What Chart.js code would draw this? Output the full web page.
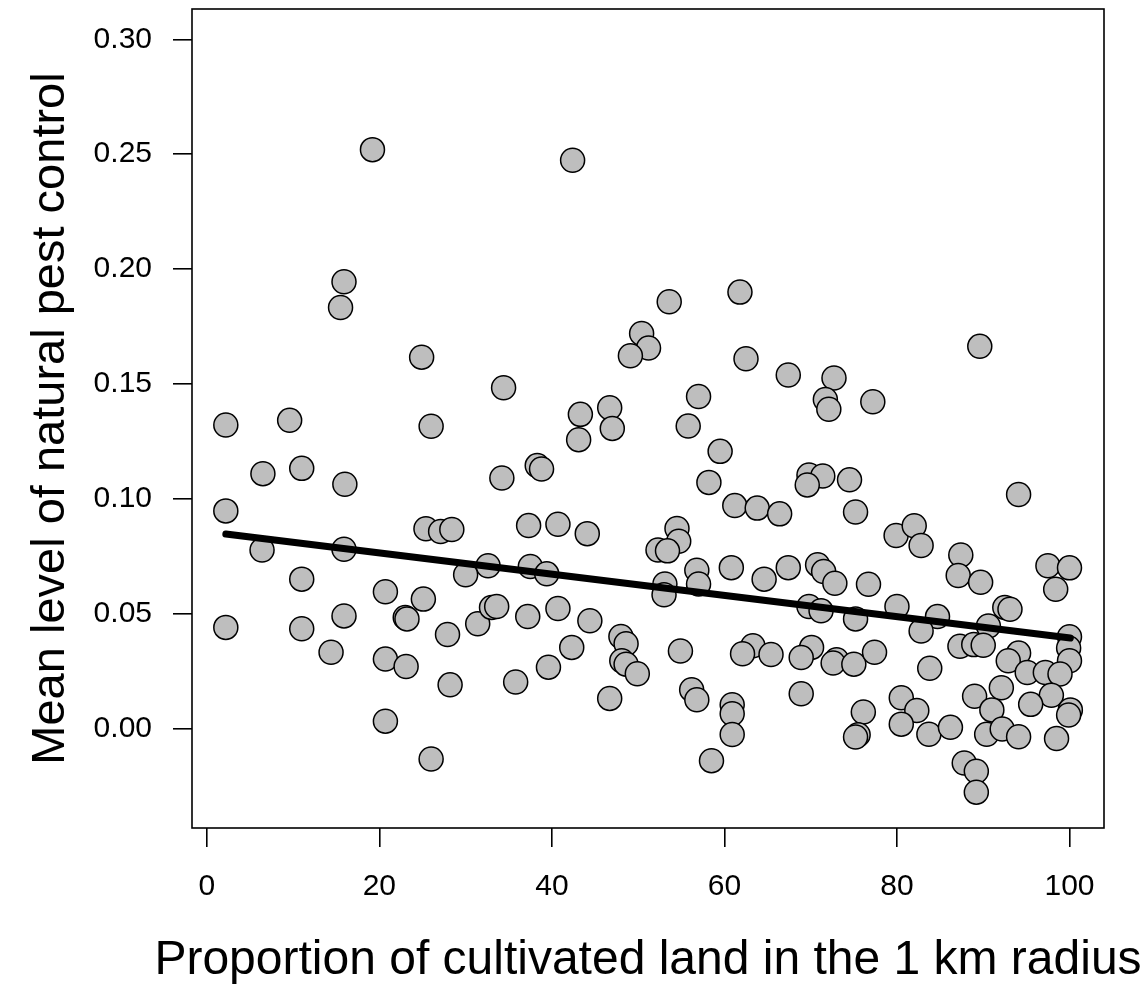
<!DOCTYPE html>
<html lang="en">
<head>
    <meta charset="UTF-8">
    <title>Natural pest control vs cultivated land</title>
    <script src="https://cdn.jsdelivr.net/npm/chart.js@4"></script>
    <style>
        body {
            margin: 0;
            background: #ffffff;
        }
        #wrap {
            width: 1146px;
            height: 985px;
        }
    </style>
</head>
<body>
    <div id="wrap">
        <canvas id="scatterCanvas" width="1146" height="985"></canvas>
    </div>
    <script>
        // proportion of cultivated land (%) and mean pest control
        const cultivated = [
            19.2, 15.9, 15.5, 24.9, 34.4, 2.2, 9.6, 26.0, 6.5, 11.0, 16.0, 34.2, 38.3, 38.8,
            2.2, 6.4, 15.9, 11.0, 25.4, 27.1, 28.4, 37.3, 32.6, 30.0, 37.5, 39.4, 20.7, 25.1,
            23.0, 23.2, 15.9, 2.2, 11.0, 14.4, 20.7, 23.1, 27.9, 31.4, 33.0, 33.6, 37.2, 39.6,
            28.2, 35.8, 20.7, 26.0,
            42.4, 53.6, 61.8, 50.4, 51.2, 49.1, 62.5, 67.4, 72.7, 71.7, 72.1, 77.2, 57.0, 43.3,
            46.7, 47.0, 43.1, 55.8, 59.5, 58.2, 69.8, 71.4, 69.6, 74.5,
            61.2, 63.8, 66.4, 75.2, 40.7, 44.1, 54.5, 54.7, 52.3, 53.4, 56.8, 57.0, 53.1, 53.0,
            60.8, 64.6, 67.4, 70.8, 71.5, 72.8, 76.7, 69.8, 71.2, 75.2, 40.7, 44.4, 42.3, 48.0,
            48.6, 48.1, 48.6, 49.9, 46.7, 54.9, 56.2, 56.8, 60.9, 60.9, 60.9, 58.5, 63.3, 62.1,
            65.4, 70.1, 68.9, 73.0, 72.6, 75.0, 77.4, 68.9, 76.1, 75.5, 75.2,
            89.6, 94.1, 79.9, 82.0, 82.8, 87.4, 87.1, 89.7, 97.5, 100.0, 98.4, 80.0, 84.7, 82.8,
            92.5, 93.1, 90.6, 87.3, 88.9, 90.0, 100.0, 99.9, 100.0, 94.1, 92.9, 95.1, 97.2, 98.9,
            83.8, 92.1, 89.0, 91.0, 97.9, 95.5, 100.1, 99.9, 80.5, 82.3, 80.5, 83.7, 86.2, 90.4,
            92.2, 94.1, 98.5, 87.8, 89.2, 89.2
        ];
        const pestControl = [
            0.252, 0.1945, 0.1833, 0.1617, 0.1484, 0.1322, 0.1342, 0.1316, 0.111, 0.1133, 0.1064, 0.1091, 0.1145, 0.113,
            0.0948, 0.0778, 0.0781, 0.0651, 0.087, 0.0858, 0.0867, 0.0884, 0.0709, 0.067, 0.0706, 0.0674, 0.0596, 0.0564,
            0.0484, 0.0478, 0.0491, 0.0441, 0.0435, 0.0333, 0.0303, 0.0271, 0.041, 0.0457, 0.0528, 0.0532, 0.0488, 0.0268,
            0.0191, 0.0203, 0.0033, -0.0132,
            0.2474, 0.1858, 0.19, 0.172, 0.1657, 0.1623, 0.161, 0.1539, 0.1526, 0.1433, 0.139, 0.1423, 0.1446, 0.1368,
            0.1397, 0.1307, 0.1258, 0.1317, 0.1207, 0.1072, 0.1104, 0.11, 0.1061, 0.1083,
            0.0971, 0.096, 0.0935, 0.0943, 0.089, 0.0849, 0.0871, 0.0816, 0.0778, 0.0774, 0.069, 0.063, 0.063, 0.0583,
            0.0701, 0.0651, 0.0701, 0.0714, 0.0684, 0.0633, 0.0629, 0.0532, 0.0513, 0.0478, 0.0523, 0.047, 0.0354, 0.0401,
            0.037, 0.0296, 0.0281, 0.0239, 0.0132, 0.0338, 0.017, 0.0126, 0.0104, 0.0065, -0.0025, -0.0139, 0.0361, 0.0326,
            0.0323, 0.0354, 0.031, 0.03, 0.0286, 0.0281, 0.0333, 0.0152, 0.0073, -0.0026, -0.0036,
            0.1664, 0.1019, 0.0841, 0.0883, 0.0797, 0.0756, 0.0667, 0.0637, 0.0709, 0.07, 0.0607, 0.0532, 0.0488, 0.0425,
            0.0528, 0.052, 0.0447, 0.0359, 0.0366, 0.0363, 0.04, 0.0351, 0.0296, 0.0329, 0.0296, 0.0245, 0.0245, 0.0238,
            0.0263, 0.0178, 0.0141, 0.0082, 0.0146, 0.0106, 0.0082, 0.006, 0.0135, 0.0079, 0.002, -0.0024, 0.0006, -0.0024,
            -0.0001, -0.0035, -0.0043, -0.0149, -0.0185, -0.0276
        ];

        // fitted regression line, end points
        const fitX = [2.2, 100.1];
        const fitY = [0.0847, 0.0395];

        const xTicks = [0, 20, 40, 60, 80, 100];
        const yTicks = [0, 0.05, 0.10, 0.15, 0.20, 0.25, 0.30];

        const xTitle = "Proportion of cultivated land in the 1 km radius";
        const yTitle = "Mean level of natural pest control";

        const fontFamily = "'Liberation Sans', Arial, Helvetica, sans-serif";

        const points = cultivated.map((x, i) => ({ x: x, y: pestControl[i] }));
        const fitLine = fitX.map((x, i) => ({ x: x, y: fitY[i] }));

        // R-style box round the plotting region, plus the x label, which in the
        // original is wider than the box (the scale title would get squeezed)
        const boxPlugin = {
            id: "plotBox",
            beforeDatasetsDraw(chart) {
                const a = chart.chartArea;
                const ctx = chart.ctx;
                ctx.save();
                ctx.strokeStyle = "#000000";
                ctx.lineWidth = 1.6;
                ctx.strokeRect(a.left, a.top, a.right - a.left, a.bottom - a.top);
                ctx.restore();
            },
            afterDraw(chart) {
                const a = chart.chartArea;
                const ctx = chart.ctx;
                ctx.save();
                ctx.fillStyle = "#000000";
                ctx.font = "48px " + fontFamily;
                ctx.textAlign = "center";
                ctx.textBaseline = "alphabetic";
                ctx.fillText(xTitle, (a.left + a.right) / 2, 974);
                ctx.restore();
            }
        };

        const ctx = document.getElementById("scatterCanvas").getContext("2d");

        new Chart(ctx, {
            type: "scatter",
            data: {
                datasets: [
                    {
                        label: "fit",
                        data: fitLine,
                        showLine: true,
                        borderColor: "#000000",
                        borderWidth: 7,
                        borderCapStyle: "round",
                        pointRadius: 0,
                        order: 0
                    },
                    {
                        label: "sites",
                        data: points,
                        backgroundColor: "#bebebe",
                        borderColor: "#000000",
                        borderWidth: 1.5,
                        pointRadius: 12,
                        order: 1
                    }
                ]
            },
            options: {
                responsive: false,
                animation: false,
                devicePixelRatio: 1,
                layout: {
                    autoPadding: false,
                    padding: { top: 9, right: 42, left: 0, bottom: 0 }
                },
                plugins: {
                    legend: { display: false },
                    tooltip: { enabled: false }
                },
                scales: {
                    x: {
                        type: "linear",
                        min: -1.72,
                        max: 104.0,
                        afterBuildTicks: (scale) => { scale.ticks = xTicks.map(v => ({ value: v })); },
                        afterFit: (scale) => {
                            scale.height = 157;
                            scale.paddingLeft = 0;
                            scale.paddingRight = 0;
                        },
                        border: { display: false },
                        grid: {
                            drawOnChartArea: false,
                            drawTicks: true,
                            tickLength: 19,
                            color: "#000000",
                            lineWidth: 1.6
                        },
                        ticks: {
                            color: "#000000",
                            font: { family: fontFamily, size: 30, lineHeight: 1 },
                            padding: 25,
                            maxRotation: 0,
                            autoSkip: false,
                            callback: (v) => String(v)
                        },
                        title: { display: false }
                    },
                    y: {
                        type: "linear",
                        min: -0.0432,
                        max: 0.3132,
                        afterBuildTicks: (scale) => { scale.ticks = yTicks.map(v => ({ value: v })); },
                        afterFit: (scale) => {
                            scale.width = 192;
                            scale.paddingTop = 0;
                            scale.paddingBottom = 0;
                        },
                        border: { display: false },
                        grid: {
                            drawOnChartArea: false,
                            drawTicks: true,
                            tickLength: 19,
                            color: "#000000",
                            lineWidth: 1.6
                        },
                        ticks: {
                            color: "#000000",
                            font: { family: fontFamily, size: 30, lineHeight: 1 },
                            padding: 21,
                            autoSkip: false,
                            callback: (v) => v.toFixed(2)
                        },
                        title: {
                            display: true,
                            text: yTitle,
                            color: "#000000",
                            font: { family: fontFamily, size: 47, lineHeight: 1 },
                            padding: { top: 28, bottom: 0 }
                        }
                    }
                }
            },
            plugins: [boxPlugin]
        });
    </script>
</body>
</html>
